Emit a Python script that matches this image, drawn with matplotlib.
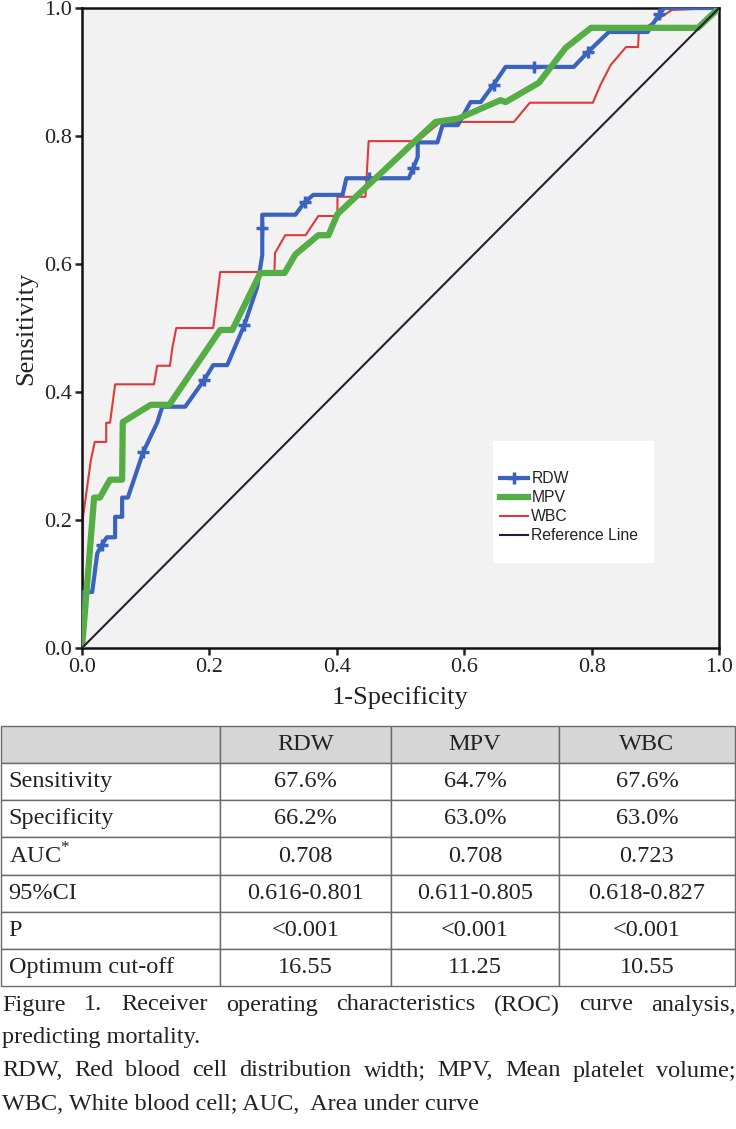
import matplotlib
matplotlib.use('Agg')
import matplotlib.pyplot as plt
from matplotlib.patches import Rectangle

plt.rcParams['font.family'] = 'Liberation Serif'
plt.rcParams['mathtext.fontset'] = 'custom'
plt.rcParams['mathtext.rm'] = 'Liberation Serif'

# ROC curves (1-specificity, sensitivity)
rdw_x = [0, 0.0016, 0.016, 0.024, 0.031, 0.039, 0.052, 0.052, 0.063, 0.063, 0.072, 0.096, 0.118,
         0.126, 0.162, 0.192, 0.206, 0.228, 0.255, 0.275, 0.283, 0.283, 0.283, 0.335, 0.350, 0.363,
         0.409, 0.415, 0.450, 0.513, 0.520, 0.527, 0.527, 0.558, 0.566, 0.590, 0.610, 0.626, 0.646,
         0.665, 0.710, 0.772, 0.794, 0.827, 0.888, 0.906, 0.914, 1.0]
rdw_y = [0, 0.0875, 0.0875, 0.148, 0.161, 0.173, 0.173, 0.205, 0.205, 0.235, 0.235, 0.306, 0.352,
         0.377, 0.377, 0.419, 0.442, 0.442, 0.505, 0.564, 0.614, 0.656, 0.677, 0.677, 0.697, 0.708,
         0.708, 0.734, 0.734, 0.734, 0.75, 0.767, 0.79, 0.79, 0.817, 0.817, 0.853, 0.853, 0.88,
         0.908, 0.908, 0.908, 0.931, 0.9625, 0.9625, 0.99, 1.0, 1.0]
rdw_marks = [4, 11, 15, 18, 21, 24, 28, 30, 38, 40, 42, 45]

mpv_x = [0, 0.019, 0.028, 0.044, 0.063, 0.064, 0.108, 0.137, 0.217, 0.236, 0.280, 0.318, 0.335,
         0.371, 0.387, 0.401, 0.555, 0.590, 0.657, 0.665, 0.717, 0.759, 0.799, 0.967, 1.0]
mpv_y = [0, 0.235, 0.235, 0.263, 0.263, 0.353, 0.38, 0.38, 0.497, 0.497, 0.586, 0.586, 0.615,
         0.645, 0.645, 0.678, 0.822, 0.827, 0.856, 0.853, 0.883, 0.9375, 0.969, 0.969, 1.0]

wbc_x = [0, 0.0016, 0.0016, 0.014, 0.020, 0.038, 0.038, 0.044, 0.052, 0.113, 0.118, 0.138, 0.142,
         0.148, 0.206, 0.217, 0.302, 0.303, 0.319, 0.351, 0.371, 0.401, 0.401, 0.445, 0.450, 0.527,
         0.563, 0.678, 0.703, 0.802, 0.814, 0.830, 0.854, 0.873, 0.874, 0.926, 1.0]
wbc_y = [0, 0.177, 0.205, 0.294, 0.322, 0.322, 0.352, 0.352, 0.412, 0.412, 0.441, 0.441, 0.470,
         0.500, 0.500, 0.5875, 0.5875, 0.617, 0.645, 0.645, 0.675, 0.675, 0.705, 0.705, 0.792, 0.792,
         0.822, 0.822, 0.852, 0.852, 0.880, 0.911, 0.939, 0.939, 0.9625, 0.997, 1.0]

ref_x = [0, 1]
ref_y = [0, 1]

# table
col_labels = ['', 'RDW', 'MPV', 'WBC']
row_labels = ['Sensitivity', 'Specificity', 'AUC$^{*}$', '95%CI', 'P', 'Optimum cut-off']
rdw_vals = ['67.6%', '66.2%', '0.708', '0.616-0.801', '<0.001', '16.55']
mpv_vals = ['64.7%', '63.0%', '0.708', '0.611-0.805', '<0.001', '11.25']
wbc_vals = ['67.6%', '63.0%', '0.723', '0.618-0.827', '<0.001', '10.55']

caption = [('Figure 1. Receiver operating characteristics (ROC) curve analysis,', True),
           ('predicting mortality.', False),
           ('RDW, Red blood cell distribution width; MPV, Mean platelet volume;', True),
           ('WBC, White blood cell; AUC,  Area under curve', False)]

W, H = 736, 1129
fig = plt.figure(figsize=(W / 100, H / 100), dpi=100)

ax = fig.add_axes([82 / W, 1 - 648 / H, 637 / W, 640 / H])
ax.set_facecolor('#f2f2f2')
ax.plot(wbc_x, wbc_y, color='#e0393b', lw=1.5, label='WBC', zorder=2)
ax.plot(rdw_x, rdw_y, color='#3a63c0', lw=3, marker='+', markevery=rdw_marks, ms=9, mew=2.5,
        label='RDW', zorder=3)
ax.plot(mpv_x, mpv_y, color='#55ad45', lw=4.5, label='MPV', zorder=4)
ax.plot(ref_x, ref_y, color='#2a1d35', lw=1.5, label='Reference Line', zorder=5)

ax.set_xlim(0, 1)
ax.set_ylim(0, 1)
ticks = [0, 0.2, 0.4, 0.6, 0.8, 1.0]
ax.set_xticks(ticks)
ax.set_yticks(ticks)
ax.set_xticklabels([f'{t:.1f}' for t in ticks])
ax.set_yticklabels([f'{t:.1f}' for t in ticks])
ax.tick_params(direction='out', length=5, width=1.8, labelsize=16, pad=2, colors='#222')
for s in ax.spines.values():
    s.set_linewidth(1.8)
    s.set_color('#111')
ax.set_xlabel('1-Specificity', fontsize=19, color='#222')
ax.set_ylabel('Sensitivity', fontsize=19, color='#222')
ax.xaxis.set_label_coords(0.5, -0.06)
ax.yaxis.set_label_coords(-0.07, 0.5)

# legend on a white box
ax.add_patch(Rectangle((0.645, 0.133), 0.253, 0.19, transform=ax.transAxes,
                       facecolor='white', edgecolor='none', zorder=6))
h, l = ax.get_legend_handles_labels()
order = [1, 2, 0, 3]
leg = ax.legend([h[i] for i in order], [l[i] for i in order], loc='upper left',
                bbox_to_anchor=(0.656, 0.276), frameon=False, borderpad=0, borderaxespad=0,
                handlelength=1.8, handletextpad=0.2, labelspacing=0.25,
                prop={'family': 'Liberation Sans', 'size': 11.3})
leg.set_zorder(7)
for t in leg.get_texts():
    t.set_color('#222')

# table
tax = fig.add_axes([1 / W, 1 - 986 / H, 734 / W, 260 / H])
tax.axis('off')
cells = [col_labels] + [[row_labels[i], rdw_vals[i], mpv_vals[i], wbc_vals[i]] for i in range(len(row_labels))]
tab = tax.table(cellText=cells, bbox=[0, 0, 1, 1], cellLoc='center',
                colWidths=[219, 171, 168, 176])
tab.auto_set_font_size(False)
for (r, c), cell in tab.get_celld().items():
    cell.set_edgecolor('#6a6a6a')
    cell.set_linewidth(1.0)
    cell.get_text().set_fontsize(17.5)
    cell.get_text().set_color('#222')
    if r == 0:
        cell.set_facecolor('#d6d6d6')
    if c == 0:
        cell.PAD = 0.035
        cell.get_text().set_ha('left')
        cell._loc = 'left'

# caption, justified like the source
r = fig.canvas.get_renderer()
ys = [1005, 1038, 1071, 1104]
for (line, just), yp in zip(caption, ys):
    if not just:
        fig.text(2 / W, 1 - yp / H, line, fontsize=17.5, color='#222', va='center', ha='left')
        continue
    words = line.split()
    txts = [fig.text(0, 1 - yp / H, w, fontsize=17.5, color='#222', va='center', ha='left') for w in words]
    widths = [t.get_window_extent(r).width for t in txts]
    gap = (734 - sum(widths)) / (len(words) - 1)
    x = 2
    for t, w in zip(txts, widths):
        t.set_x(x / W)
        x += w + gap

fig.savefig('out.png', dpi=100)
